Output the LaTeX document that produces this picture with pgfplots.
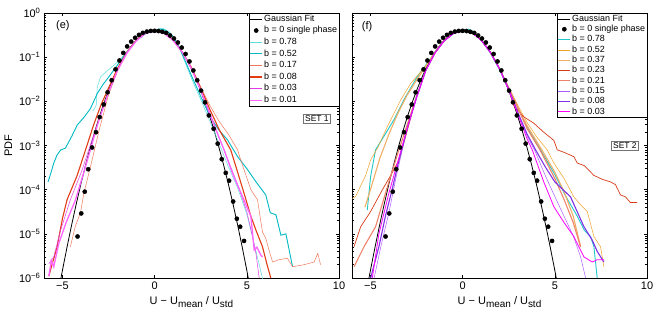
\documentclass[border=0pt]{standalone}
\usepackage{pgfplots}
\pgfplotsset{compat=1.18}
\usepackage{fontspec}
\setmainfont{Liberation Sans}
\definecolor{eA}{RGB}{90,220,220}
\definecolor{eB}{RGB}{0,185,195}
\definecolor{eC}{RGB}{240,120,90}
\definecolor{eD}{RGB}{225,60,20}
\definecolor{eE}{RGB}{225,60,225}
\definecolor{eF}{RGB}{255,100,255}
\definecolor{fA}{RGB}{30,200,200}
\definecolor{fB}{RGB}{240,160,40}
\definecolor{fC}{RGB}{240,175,100}
\definecolor{fD}{RGB}{215,60,25}
\definecolor{fE}{RGB}{240,130,105}
\definecolor{fF}{RGB}{175,90,255}
\definecolor{fG}{RGB}{130,50,230}
\definecolor{fH}{RGB}{255,0,255}
\pgfplotsset{
 gauss/.style={black, line width=0.8bp, no markers},
 dots/.style={only marks, mark=*, mark size=2.1bp, black},
}
\newcommand{\xlab}{U − U\raisebox{-0.55ex}{\fontsize{10}{10}\selectfont mean} / U\raisebox{-0.55ex}{\fontsize{10}{10}\selectfont std}}
\begin{document}
\begin{tikzpicture}
\path[use as bounding box] (-44bp,-32bp) rectangle (610bp,278bp);
\begin{axis}[
  scale only axis, width=295bp, height=265bp, at={(0bp,0bp)},
  xmin=-6, xmax=10, ymin=1e-6, ymax=1, ymode=log,
  xtick={-5,0,5,10}, xticklabels={−5,0,5,10},
  ytick={1e-6,1e-5,1e-4,1e-3,1e-2,1e-1,1},
  yticklabels={10\textsuperscript{−6},10\textsuperscript{−5},10\textsuperscript{−4},10\textsuperscript{−3},10\textsuperscript{−2},10\textsuperscript{−1},10\textsuperscript{0}},
  tick align=inside, major tick length=3bp, minor tick length=1.6bp,
  tick label style={font=\fontsize{11}{12}\selectfont},
  axis line style={line width=0.7bp},
  every tick/.style={black, line width=0.5bp},
  xlabel={\xlab},
  ylabel={PDF},
  label style={font=\fontsize{11}{12}\selectfont},
  legend style={at={(1,1)}, anchor=north east, font=\fontsize{9}{10}\selectfont, draw=black, inner sep=0.8bp, row sep=1.7bp, column sep=0.5bp, nodes={inner sep=0.8bp, text height=6.5bp, text depth=1.8bp}},
  legend cell align=left,
  legend image code/.code={\draw[mark repeat=2,mark phase=2,#1] plot coordinates {(0bp,0bp) (6bp,0bp) (12bp,0bp)};},
  ]
\addplot[gauss] coordinates {(-5.1,8.97e-7)(-5,1.49e-6)(-4.75,5.03e-6)(-4.5,1.6e-5)(-4.25,4.77e-5)(-4,1.34e-4)(-3.75,3.53e-4)(-3.5,8.73e-4)(-3.25,2.03e-3)(-3,4.43e-3)(-2.75,9.09e-3)(-2.5,0.0175)(-2.25,0.0317)(-2,0.054)(-1.75,0.0863)(-1.5,0.1295)(-1.25,0.1826)(-1,0.242)(-0.75,0.3011)(-0.5,0.3521)(-0.25,0.3867)(0,0.3989)(0.25,0.3867)(0.5,0.3521)(0.75,0.3011)(1,0.242)(1.25,0.1826)(1.5,0.1295)(1.75,0.0863)(2,0.054)(2.25,0.0317)(2.5,0.0175)(2.75,9.09e-3)(3,4.43e-3)(3.25,2.03e-3)(3.5,8.73e-4)(3.75,3.53e-4)(4,1.34e-4)(4.25,4.77e-5)(4.5,1.6e-5)(4.75,5.03e-6)(5,1.49e-6)(5.1,8.97e-7)};
\addplot[dots] coordinates {(-4.18,8.7e-6)(-3.98,2.9e-5)(-3.79,9.0e-5)(-3.60,2.9e-4)(-3.39,9.0e-4)(-3.18,2.0e-3)(-2.98,4.4e-3)(-2.76,8.5e-3)(-2.55,1.6e-2)(-2.33,3.0e-2)(-2.12,5.3e-2)(-1.91,8.4e-2)(-1.70,0.125)(-1.49,0.175)(-1.27,0.225)(-1.06,0.275)(-0.85,0.32)(-0.64,0.355)(-0.42,0.38)(-0.21,0.393)(0,0.395)(0.21,0.39)(0.42,0.375)(0.63,0.355)(0.84,0.31)(1.05,0.265)(1.26,0.215)(1.47,0.165)(1.68,0.118)(1.89,0.080)(2.10,0.050)(2.31,0.030)(2.52,0.0175)(2.73,0.0095)(2.94,0.0048)(3.20,2.4e-3)(3.42,1.1e-3)(3.64,4.9e-4)(3.86,2.4e-4)(4.04,1.6e-4)(4.26,5.4e-5)(4.46,2.2e-5)(4.64,1.45e-5)(4.85,6.9e-6)};
\addplot[eA, line width=0.5bp] coordinates {(-3.35,6e-3)(-3.17,8e-3)(-3.11,0.021)(-2.93,0.036)(-2.5,0.052)(-2.0,0.078)(-1.5,0.135)(-1.0,0.23)(-0.5,0.34)(0,0.41)(0.3,0.45)(0.5,0.44)(0.8,0.37)(1.0,0.29)(1.3,0.18)(1.7,0.068)(2.0,0.033)(2.5,0.011)(3.0,3.5e-3)(3.5,1.1e-3)(4.0,3.3e-4)(4.5,1.1e-4)(5.0,2.8e-5)(5.4,6e-6)(5.7,1.8e-6)(5.9,8e-7)};
\addplot[eB, line width=0.9bp] coordinates {(-5.78,1.5e-4)(-5.6,2.6e-4)(-5.47,4e-4)(-5.3,6e-4)(-5.1,7.9e-4)(-4.84,8.7e-4)(-4.5,1.6e-3)(-4.2,2.9e-3)(-3.8,4.5e-3)(-3.48,6.9e-3)(-3.11,0.015)(-2.8,0.024)(-2.5,0.035)(-2.0,0.068)(-1.5,0.13)(-1.0,0.235)(-0.5,0.34)(0,0.40)(0.3,0.43)(0.5,0.42)(0.8,0.35)(1.0,0.29)(1.3,0.18)(1.7,0.075)(2.0,0.038)(2.5,0.013)(3.0,4.5e-3)(3.5,2.2e-3)(3.95,1.35e-3)(4.5,5.6e-4)(5.0,3e-4)(5.5,1.5e-4)(6.03,7.6e-5)(6.27,3e-5)(6.58,2.7e-5)(6.85,9.3e-6)(7.12,1e-5)(7.48,1.8e-6)};
\addplot[eC, line width=0.5bp] coordinates {(-4.57,5.1e-6)(-4.3,1.5e-5)(-4.02,3e-5)(-3.84,8.3e-5)(-3.48,3.3e-4)(-3.0,2.3e-3)(-2.5,0.014)(-2.0,0.05)(-1.5,0.125)(-1.0,0.235)(-0.5,0.35)(-0.2,0.405)(0,0.415)(0.3,0.40)(0.5,0.37)(1.0,0.25)(1.5,0.135)(2.0,0.06)(2.5,0.021)(3.0,8e-3)(3.5,3.5e-3)(4.0,1.8e-3)(4.5,8e-4)(4.67,4.7e-4)(5.22,1e-4)(5.58,5.9e-5)(5.85,1.1e-5)(6.03,7.9e-6)(6.2,4.3e-6)(6.4,2.3e-6)(6.75,2.6e-6)(7.2,2.8e-6)(7.48,1.8e-6)(8.1,2e-6)(8.65,2.3e-6)(8.85,3.6e-6)(9.0,2e-6)};
\addplot[eD, line width=1.1bp] coordinates {(-5.74,1.1e-6)(-5.5,2.5e-6)(-5.29,5.1e-6)(-5.0,2.2e-5)(-4.75,5.9e-5)(-4.2,2.1e-4)(-3.75,7.9e-4)(-3.3,3e-3)(-2.9,8.5e-3)(-2.5,0.02)(-2.0,0.057)(-1.5,0.13)(-1.0,0.24)(-0.5,0.35)(0,0.395)(0.5,0.36)(1.0,0.25)(1.5,0.13)(2.0,0.057)(2.5,0.02)(3.0,6.5e-3)(3.5,2.3e-3)(4.13,7.9e-4)(4.5,2.5e-4)(4.85,8.3e-5)(5.22,2.5e-5)(5.5,1.2e-5)(5.85,5.1e-6)(6.1,2e-6)(6.3,1e-6)};
\addplot[eE, line width=0.5bp] coordinates {(-5.74,2.1e-6)(-5.47,3e-6)(-5.1,1.2e-5)(-4.57,5.9e-5)(-3.93,2.8e-4)(-3.5,1e-3)(-3.0,4e-3)(-2.5,0.016)(-2.0,0.052)(-1.5,0.125)(-1.0,0.235)(-0.5,0.345)(0,0.39)(0.5,0.35)(1.0,0.24)(1.5,0.13)(2.0,0.055)(2.5,0.018)(3.0,5.5e-3)(3.5,1.5e-3)(4.0,4.5e-4)(4.5,1.3e-4)(5.0,3.2e-5)(5.3,9e-6)(5.5,3.5e-6)(5.67,1e-6)};
\addplot[eF, line width=1.3bp] coordinates {(-5.74,1.1e-6)(-5.6,2.5e-6)(-5.47,1.8e-6)(-5.2,6e-6)(-4.8,1.8e-5)(-4.29,5.9e-5)(-3.75,3.3e-4)(-3.3,1.5e-3)(-3.0,4e-3)(-2.5,0.016)(-2.0,0.052)(-1.5,0.125)(-1.0,0.235)(-0.5,0.345)(0,0.39)(0.5,0.35)(1.0,0.24)(1.5,0.13)(2.0,0.055)(2.5,0.018)(3.0,5e-3)(3.5,1.5e-3)(3.77,7.9e-4)(4.2,2.5e-4)(4.77,6.9e-5)(5.22,2.5e-5)(5.4,4.3e-6)(5.55,5e-6)(5.76,3.3e-6)(5.85,3e-6)};
\legend{Gaussian Fit, b = 0 single phase, b = 0.78, b = 0.52, b = 0.17, b = 0.08, b = 0.03, b = 0.01}
\node[font=\fontsize{11}{12}\selectfont] at (rel axis cs:0.064,0.951) {(e)};
\node[draw=black!55, line width=0.9bp, fill=white, font=\fontsize{8.5}{9}\selectfont, inner sep=1.6bp] at (rel axis cs:0.925,0.6) {SET 1};
\end{axis}
\begin{axis}[
  scale only axis, width=295bp, height=265bp, at={(308bp,0bp)},
  xmin=-6, xmax=10, ymin=1e-6, ymax=1, ymode=log,
  xtick={-5,0,5,10}, xticklabels={−5,0,5,10},
  ytick={1e-6,1e-5,1e-4,1e-3,1e-2,1e-1,1},
  yticklabels={},
  tick align=inside, major tick length=3bp, minor tick length=1.6bp,
  tick label style={font=\fontsize{11}{12}\selectfont},
  axis line style={line width=0.7bp},
  every tick/.style={black, line width=0.5bp},
  xlabel={\xlab},
  label style={font=\fontsize{11}{12}\selectfont},
  legend style={at={(1,1)}, anchor=north east, font=\fontsize{9}{10}\selectfont, draw=black, inner sep=0.8bp, row sep=0.4bp, column sep=0.5bp, nodes={inner sep=0.8bp, text height=6.5bp, text depth=1.8bp}},
  legend cell align=left,
  legend image code/.code={\draw[mark repeat=2,mark phase=2,#1] plot coordinates {(0bp,0bp) (6bp,0bp) (12bp,0bp)};},
  ]
\addplot[gauss] coordinates {(-5.1,8.97e-7)(-5,1.49e-6)(-4.75,5.03e-6)(-4.5,1.6e-5)(-4.25,4.77e-5)(-4,1.34e-4)(-3.75,3.53e-4)(-3.5,8.73e-4)(-3.25,2.03e-3)(-3,4.43e-3)(-2.75,9.09e-3)(-2.5,0.0175)(-2.25,0.0317)(-2,0.054)(-1.75,0.0863)(-1.5,0.1295)(-1.25,0.1826)(-1,0.242)(-0.75,0.3011)(-0.5,0.3521)(-0.25,0.3867)(0,0.3989)(0.25,0.3867)(0.5,0.3521)(0.75,0.3011)(1,0.242)(1.25,0.1826)(1.5,0.1295)(1.75,0.0863)(2,0.054)(2.25,0.0317)(2.5,0.0175)(2.75,9.09e-3)(3,4.43e-3)(3.25,2.03e-3)(3.5,8.73e-4)(3.75,3.53e-4)(4,1.34e-4)(4.25,4.77e-5)(4.5,1.6e-5)(4.75,5.03e-6)(5,1.49e-6)(5.1,8.97e-7)};
\addplot[dots] coordinates {(-4.18,8.7e-6)(-3.98,2.9e-5)(-3.79,9.0e-5)(-3.60,2.9e-4)(-3.39,9.0e-4)(-3.18,2.0e-3)(-2.98,4.4e-3)(-2.76,8.5e-3)(-2.55,1.6e-2)(-2.33,3.0e-2)(-2.12,5.3e-2)(-1.91,8.4e-2)(-1.70,0.125)(-1.49,0.175)(-1.27,0.225)(-1.06,0.275)(-0.85,0.32)(-0.64,0.355)(-0.42,0.38)(-0.21,0.393)(0,0.395)(0.21,0.39)(0.42,0.375)(0.63,0.355)(0.84,0.31)(1.05,0.265)(1.26,0.215)(1.47,0.165)(1.68,0.118)(1.89,0.080)(2.10,0.050)(2.31,0.030)(2.52,0.0175)(2.73,0.0095)(2.94,0.0048)(3.20,2.4e-3)(3.42,1.1e-3)(3.64,4.9e-4)(3.86,2.4e-4)(4.04,1.6e-4)(4.26,5.4e-5)(4.46,2.2e-5)(4.64,1.45e-5)(4.85,6.9e-6)};
\addplot[fA, line width=0.9bp] coordinates {(-5.17,3.5e-5)(-4.99,2e-4)(-4.72,8e-4)(-4.2,1.8e-3)(-3.7,4e-3)(-3.18,0.011)(-2.46,0.036)(-2.0,0.066)(-1.5,0.13)(-1.0,0.235)(-0.5,0.34)(0,0.41)(0.3,0.43)(0.5,0.40)(1.0,0.25)(1.5,0.125)(2.0,0.052)(2.5,0.019)(3.0,7e-3)(3.5,2.6e-3)(4.23,7.9e-4)(5.0,2.2e-4)(5.6,7e-5)(6.22,2.5e-5)(6.6,1.2e-5)(6.94,8.7e-6)(7.12,5.1e-6)(7.3,1e-6)};
\addplot[fB, line width=0.5bp] coordinates {(-5.98,6.3e-5)(-5.8,7e-5)(-5.5,1.3e-4)(-5.26,2.1e-4)(-4.99,4.7e-4)(-4.6,9e-4)(-4.08,2.7e-3)(-3.36,0.0107)(-2.8,0.026)(-2.3,0.045)(-2.0,0.064)(-1.5,0.13)(-1.0,0.24)(-0.5,0.35)(0,0.41)(0.5,0.37)(1.0,0.25)(1.5,0.13)(2.0,0.055)(2.5,0.021)(3.0,8e-3)(3.5,3.3e-3)(4.0,1.6e-3)(4.59,7.9e-4)(4.95,4e-4)(5.5,1.8e-4)(6.03,6.9e-5)(6.4,4.5e-5)(6.76,3.2e-5)(7.12,8.7e-6)(7.48,5.1e-6)(7.66,1.8e-6)};
\addplot[fC, line width=1.1bp] coordinates {(-5.3,4e-5)(-5.0,1e-4)(-4.5,5e-4)(-4.0,1.8e-3)(-3.5,5.5e-3)(-3.0,0.014)(-2.5,0.03)(-2.0,0.062)(-1.5,0.13)(-1.0,0.24)(-0.5,0.35)(0,0.40)(0.5,0.37)(1.0,0.25)(1.5,0.13)(2.0,0.056)(2.5,0.02)(3.0,7e-3)(3.5,2.8e-3)(4.3,7.9e-4)(5.0,2.5e-4)(5.5,9e-5)(6.0,2.5e-5)(6.4,5.1e-6)};
\addplot[fD, line width=0.7bp] coordinates {(-5.89,5.1e-6)(-5.53,1.45e-5)(-4.99,3.2e-5)(-4.35,1e-4)(-3.9,2.1e-4)(-3.45,4.7e-4)(-3.0,2.2e-3)(-2.5,0.013)(-2.0,0.05)(-1.5,0.125)(-1.0,0.235)(-0.5,0.35)(0,0.42)(0.5,0.38)(1.0,0.25)(1.5,0.13)(2.0,0.055)(2.5,0.019)(2.78,8e-3)(3.3,4.5e-3)(3.86,3.2e-3)(4.4,2e-3)(4.95,1.3e-3)(5.13,8e-4)(5.5,7e-4)(6.03,5.6e-4)(6.22,4e-4)(6.6,3.5e-4)(7.12,2.1e-4)(7.6,1.7e-4)(8.02,1.5e-4)(8.29,1.3e-4)(8.56,7.6e-5)(8.83,6.9e-5)(9.1,5.1e-5)(9.47,5.1e-5)};
\addplot[fE, line width=1.1bp] coordinates {(-5.89,1.8e-6)(-5.35,5.1e-6)(-4.72,1.45e-5)(-4.35,4.9e-5)(-4.0,1.5e-4)(-3.5,7e-4)(-3.0,3e-3)(-2.5,0.013)(-2.0,0.05)(-1.5,0.125)(-1.0,0.235)(-0.5,0.35)(0,0.41)(0.5,0.37)(1.0,0.25)(1.5,0.13)(2.0,0.055)(2.5,0.02)(3.0,7e-3)(3.5,2.4e-3)(4.2,7.9e-4)(5.0,1.8e-4)(5.5,6e-5)(6.0,1.8e-5)(6.4,5e-6)};
\addplot[fF, line width=0.5bp] coordinates {(-4.8,1e-6)(-4.4,6e-6)(-4.0,3e-5)(-3.6,2e-4)(-3.0,2.5e-3)(-2.5,0.013)(-2.0,0.05)(-1.5,0.125)(-1.0,0.235)(-0.5,0.345)(0,0.40)(0.5,0.36)(1.0,0.245)(1.5,0.13)(2.0,0.054)(2.5,0.018)(3.0,5.5e-3)(3.5,1.6e-3)(3.9,7.9e-4)(4.5,2e-4)(5.0,7e-5)(5.5,2.5e-5)(6.0,9e-6)(6.4,3e-6)(6.67,1e-6)};
\addplot[fG, line width=1.1bp] coordinates {(-4.99,1e-6)(-4.54,5.1e-6)(-4.17,2.7e-5)(-3.81,1.07e-4)(-3.45,4.7e-4)(-3.0,2.5e-3)(-2.5,0.012)(-2.0,0.05)(-1.5,0.125)(-1.0,0.235)(-0.5,0.345)(0,0.40)(0.5,0.36)(1.0,0.245)(1.5,0.13)(2.0,0.055)(2.5,0.019)(3.0,5.5e-3)(3.5,1.8e-3)(3.96,7.9e-4)(4.5,3.2e-4)(5.0,1.5e-4)(5.85,6.9e-5)(6.58,1.45e-5)(7.03,7.2e-6)(7.3,4e-6)(7.66,2.3e-6)};
\addplot[fH, line width=0.8bp] coordinates {(-4.9,1e-6)(-4.54,1e-5)(-4.0,8.3e-5)(-3.54,4e-4)(-3.0,2.5e-3)(-2.5,0.012)(-2.0,0.05)(-1.5,0.125)(-1.0,0.235)(-0.5,0.345)(0,0.40)(0.5,0.36)(1.0,0.245)(1.5,0.13)(2.0,0.054)(2.5,0.018)(3.0,5e-3)(3.5,1.4e-3)(3.78,7.9e-4)(4.4,1.5e-4)(4.95,4.1e-5)(5.5,1.8e-5)(6.03,8.7e-6)(6.58,3e-6)(7.03,2.3e-6)(7.3,2.6e-6)(7.66,2.6e-6)};
\legend{Gaussian Fit, b = 0 single phase, b = 0.78, b = 0.52, b = 0.37, b = 0.23, b = 0.21, b = 0.15, b = 0.08, b = 0.03}
\node[font=\fontsize{11}{12}\selectfont] at (rel axis cs:0.051,0.947) {(f)};
\node[draw=black!55, line width=0.9bp, fill=white, font=\fontsize{8.5}{9}\selectfont, inner sep=1.6bp] at (rel axis cs:0.925,0.498) {SET 2};
\end{axis}
\end{tikzpicture}
\end{document}
